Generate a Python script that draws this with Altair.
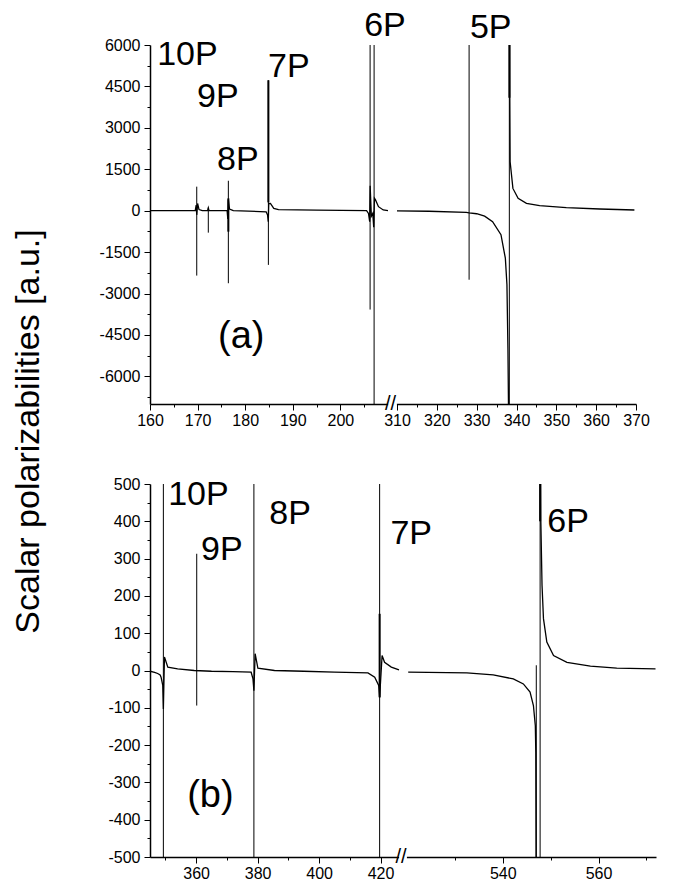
import altair as alt
import pandas as pd

FONT = "Liberation Sans"

# ---------------- panel (a) data ----------------
a_left_x = [160, 169.5, 169.7, 169.82, 170.0, 170.3, 171.0, 172.1, 172.25, 172.4, 176.2, 176.35, 176.46, 176.7, 177.5,
            184.4, 184.7, 184.85, 184.95, 185.3, 186.0, 187.0, 195.0, 205.5, 205.9, 206.15, 206.25, 206.5, 206.8,
            207.0, 207.15, 207.35, 208.0, 209.0, 210.0]
a_left_y = [0, 0, 200, -150, 260, 40, 0, 0, 100, 0, 0, -300, 400, 60, 0,
            -40, -160, -400, 260, 264, 83, 40, 20, 0, -100, -400, 900, -200, -100,
            -600, 450, 400, 145, 25, 0]
a_r1_x = [310, 318, 327.4, 328.1, 330, 332, 334, 336.1, 337.2, 337.6, 337.85, 338.05]
a_r1_y = [-10, -20, -60, -80, -110, -200, -400, -870, -1720, -2680, -5000, -8000]
a_r2_x = [338.25, 338.32, 338.4, 339.1, 340.4, 342.5, 345.8, 352.5, 360.9, 369.6]
a_r2_y = [8000, 4090, 1770, 806, 445, 264, 180, 108, 61, 25]

a_rule_x = [169.82, 172.25, 176.46, 184.87, 206.24, 207.08, 328.1, 338.2]
a_rule_top = [870, 108, 1084, 4723, 6000, 6000, 6000, 6000]
a_rule_bot = [-2350, -795, -2627, -1963, -3580, -7000, -2500, -7000]
a_thick_x = [176.46, 184.87, 338.22]
a_thick_top = [445, 4723, 6000]
a_thick_bot = [-759, 300, 4090]

a_lab = ["10P", "9P", "8P", "7P", "6P", "5P"]
a_lab_x = [161.5, 169.9, 174.1, 184.8, 205.0, 328.3]
a_lab_y = [5277, 3759, 1482, 4843, 6340, 6250]
a_tag = ["(a)"]
a_tag_x = [174.3]
a_tag_y = [-4987]

a_x_dom = [160, 210, 310, 370]
a_x_ticks = [160, 165, 170, 175, 180, 185, 190, 195, 200, 205,
             310, 315, 320, 325, 330, 335, 340, 345, 350, 355, 360, 365, 370]
a_y_ticks = list(range(-6750, 6001, 750))

# ---------------- panel (b) data ----------------
b_left_x = [345, 346.5, 347.5, 348.3, 348.6, 349.15, 349.35, 349.7, 350.8, 354.0, 359.4, 365, 372, 377.9,
            378.5, 378.8, 379.2, 380.1, 385.5, 395, 405.0, 415.9, 418.1, 419.4, 419.7, 420.5, 421.3, 423.5, 426.0]
b_left_y = [-2, -5, -8, -12, -18, -40, -103, 36, 9, 4.4, 0, -2, -3, -4.6,
            -22.5, -54, 45, 6, 0, -2, -4.6, -6.3, -18, -40, -72, 40, 22, 9, 1.6]
b_r1_x = [520.25, 532.5, 538.0, 542.2, 544.3, 545.7, 546.4, 546.8, 546.9, 547.0]
b_r1_y = [-4.6, -6.3, -11.7, -22.5, -36, -58, -94, -148, -220, -700]
b_r2_x = [547.85, 547.95, 548.2, 548.5, 549.2, 550.6, 553.4, 558.3, 563.8, 571.9]
b_r2_y = [700, 400, 228, 139, 76, 40, 22, 11.6, 6.2, 4.4]

b_rule_x = [349.35, 360.2, 378.8, 419.7, 547.8, 547.0]
b_rule_top = [500, 313, 500, 500, 500, 14]
b_rule_bot = [-500, -94, -500, -500, -500, -500]
b_thick_x = [419.7, 547.8]
b_thick_top = [152, 500]
b_thick_bot = [-72, 400]

b_lab = ["10P", "9P", "8P", "7P", "6P"]
b_lab_x = [350.9, 361.6, 383.8, 423.2, 549.3]
b_lab_y = [445, 296.5, 393, 339.5, 372]
b_tag = ["(b)"]
b_tag_x = [357.1]
b_tag_y = [-367]

b_x_dom = [345, 426, 520, 572]
b_x_ticks = [350, 360, 370, 380, 390, 400, 410, 420, 530, 540, 550, 560, 570]
b_y_ticks = list(range(-500, 501, 50))


def curve_df(parts):
    rows = []
    for seg, (xs, ys) in enumerate(parts):
        rows += [{"x": x, "y": y, "seg": seg} for x, y in zip(xs, ys)]
    return pd.DataFrame(rows)


def rule_df(xs, tops, bots):
    return pd.DataFrame({"x": xs, "y": tops, "y2": bots})


def text_df(texts, xs, ys):
    return pd.DataFrame({"x": xs, "y": ys, "t": texts})


def num_axis(values, major, **kw):
    test = f"datum.value % {major} === 0"
    return alt.Axis(
        values=values,
        labelExpr=f"{test} ? '' + datum.value : ''",
        tickSize={"condition": {"test": test, "value": 6}, "value": 3},
        grid=False, labelFont=FONT, labelFontSize=16, labelColor="black",
        labelOverlap=False, labelFlush=False, domainColor="black", domainWidth=1.5,
        tickColor="black", tickWidth=1, **kw)


def panel(parts, rules, thick, labs, tag, x_dom, x_rng, x_ticks, x_major, y_dom, y_ticks, y_major,
          gap, w, h, y_axis_kw):
    xs = alt.Scale(domain=x_dom, range=x_rng, nice=False, zero=False)
    ys = alt.Scale(domain=y_dom, nice=False, zero=False)
    X = alt.X("x:Q", scale=xs, axis=num_axis(x_ticks, x_major, title=None, labelPadding=2))
    Y = alt.Y("y:Q", scale=ys, axis=num_axis(y_ticks, y_major, labelPadding=4, **y_axis_kw))
    line = alt.Chart(curve_df(parts)).mark_line(color="black", strokeWidth=1.3, clip=True).encode(
        x=X, y=Y, detail="seg:N")
    r1 = alt.Chart(rule_df(*rules)).mark_rule(color="black", strokeWidth=1, clip=True).encode(
        x=X, y=Y, y2="y2:Q")
    r2 = alt.Chart(rule_df(*thick)).mark_rule(color="black", strokeWidth=2, clip=True).encode(
        x=X, y=Y, y2="y2:Q")
    t1 = alt.Chart(text_df(*labs)).mark_text(align="left", baseline="alphabetic", font=FONT,
                                              fontSize=34, color="black").encode(x=X, y=Y, text="t:N")
    t2 = alt.Chart(text_df(*tag)).mark_text(align="left", baseline="alphabetic", font=FONT,
                                             fontSize=38, color="black").encode(x=X, y=Y, text="t:N")
    gx0, gx1 = gap
    gdf = pd.DataFrame({"x": [gx0 + 1], "x2": [gx1 - 1], "y": [y_dom[0]]})
    white = alt.Chart(gdf).mark_rule(color="white", strokeWidth=7).encode(x=X, x2="x2:Q", y=Y)
    sdf = pd.DataFrame({"x": [(gx0 + gx1) / 2], "y": [y_dom[0]], "t": ["//"]})
    slash = alt.Chart(sdf).mark_text(align="center", baseline="middle", font=FONT, fontSize=20,
                                     color="black", dx=-2).encode(x=X, y=Y, text="t:N")
    return alt.layer(line, r1, r2, t1, t2, white, slash).properties(width=w, height=h)


pa = panel([(a_left_x, a_left_y), (a_r1_x, a_r1_y), (a_r2_x, a_r2_y)],
           (a_rule_x, a_rule_top, a_rule_bot), (a_thick_x, a_thick_top, a_thick_bot),
           (a_lab, a_lab_x, a_lab_y), (a_tag, a_tag_x, a_tag_y),
           a_x_dom, [0, 238, 247, 486], a_x_ticks, 10, [-7000, 6000], a_y_ticks, 1500,
           (210, 310), 486, 359,
           dict(title="Scalar polarizabilities [a.u.]", titleFont=FONT, titleFontSize=34,
                titleFontWeight="normal", titleColor="black", titleX=-105, titleY=386,
                titleAngle=270, titleAlign="center", titleBaseline="bottom"))

pb = panel([(b_left_x, b_left_y), (b_r1_x, b_r1_y), (b_r2_x, b_r2_y)],
           (b_rule_x, b_rule_top, b_rule_bot), (b_thick_x, b_thick_top, b_thick_bot),
           (b_lab, b_lab_x, b_lab_y), (b_tag, b_tag_x, b_tag_y),
           b_x_dom, [0, 249, 257, 506], b_x_ticks, 20, [-500, 500], b_y_ticks, 100,
           (426, 520), 506, 373, dict(title=None))

chart = alt.vconcat(pa, pb, spacing=80, bounds="flush").configure_view(strokeWidth=0).properties(
    padding={"left": 3, "top": 0, "right": 5, "bottom": 5})

chart.save("out.html", embed_options={"renderer": "svg", "actions": False})
